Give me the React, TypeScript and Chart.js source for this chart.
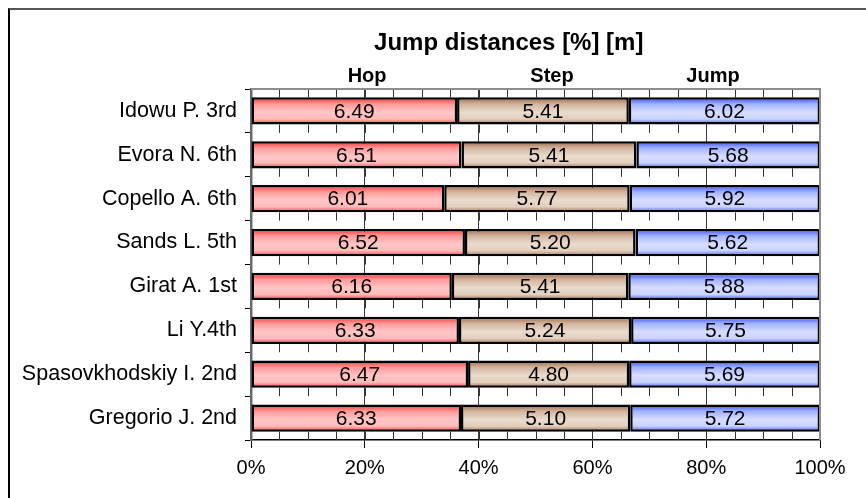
import React, { useEffect, useRef } from "react";
import { Chart, registerables } from "chart.js";

Chart.register(...registerables);

const categories = [
  "Idowu P. 3rd",
  "Evora N. 6th",
  "Copello A. 6th",
  "Sands L. 5th",
  "Girat A. 1st",
  "Li Y.4th",
  "Spasovkhodskiy I. 2nd",
  "Gregorio J. 2nd",
];
const hop = [6.49, 6.51, 6.01, 6.52, 6.16, 6.33, 6.47, 6.33];
const step = [5.41, 5.41, 5.77, 5.2, 5.41, 5.24, 4.8, 5.1];
const jump = [6.02, 5.68, 5.92, 5.62, 5.88, 5.75, 5.69, 5.72];
const seriesNames = ["Hop", "Step", "Jump"];
const headerPositions = [20.4, 52.9, 81.2];
const xTicks = [0, 20, 40, 60, 80, 100];

const FONT = '"Liberation Sans", Arial, sans-serif';
const BAR_PCT = 0.62;

const gradStops: string[][] = [
  ["#ff2a2a", "#ff9a9a", "#ffc6c6", "#ffbaba", "#ff3434"],
  ["#9c6444", "#d2b49e", "#eadbcc", "#e2cfbd", "#a06a4a"],
  ["#2f4cff", "#a2b2ff", "#d6ddff", "#cad3ff", "#3856ff"],
];

const totals = categories.map((_, i) => hop[i] + step[i] + jump[i]);
const raw = [hop, step, jump];

function makeBg(si: number) {
  return (ctx: any) => {
    const chart = ctx.chart;
    const y = chart.scales && chart.scales.y;
    if (!y || ctx.dataIndex === undefined) return gradStops[si][2];
    const c = y.getPixelForValue(ctx.dataIndex);
    const band = Math.abs(y.getPixelForValue(1) - y.getPixelForValue(0));
    if (!isFinite(c) || !isFinite(band) || band <= 0) return gradStops[si][2];
    const h = band * BAR_PCT;
    const g = chart.ctx.createLinearGradient(0, c - h / 2, 0, c + h / 2);
    const s = gradStops[si];
    g.addColorStop(0, s[0]);
    g.addColorStop(0.25, s[1]);
    g.addColorStop(0.55, s[2]);
    g.addColorStop(0.8, s[3]);
    g.addColorStop(1, s[4]);
    return g;
  };
}

const minorTicksPlugin = {
  id: "minorTicks",
  beforeDatasetsDraw(chart: any) {
    const { ctx, scales } = chart;
    const x = scales.x;
    const y = scales.y;
    const band = Math.abs(y.getPixelForValue(1) - y.getPixelForValue(0));
    const gap = (band * (1 - BAR_PCT)) / 2;
    ctx.save();
    ctx.strokeStyle = "#333";
    ctx.lineWidth = 1;
    ctx.beginPath();
    for (let v = 5; v < 100; v += 5) {
      const px = Math.round(x.getPixelForValue(v)) + 0.5;
      const top = y.getPixelForValue(0) - band / 2;
      ctx.moveTo(px, top);
      ctx.lineTo(px, top + gap);
      for (let i = 0; i < categories.length; i++) {
        const b = y.getPixelForValue(i) + band / 2;
        ctx.moveTo(px, b - gap);
        ctx.lineTo(px, b);
      }
    }
    ctx.stroke();
    ctx.restore();
  },
};

const frameAndLabelsPlugin = {
  id: "frameLabels",
  afterDatasetsDraw(chart: any) {
    const { ctx, chartArea } = chart;
    ctx.save();
    ctx.strokeStyle = "#8c8c8c";
    ctx.lineWidth = 2;
    ctx.beginPath();
    ctx.moveTo(chartArea.left, chartArea.top);
    ctx.lineTo(chartArea.right, chartArea.top);
    ctx.lineTo(chartArea.right, chartArea.bottom);
    ctx.stroke();
    ctx.fillStyle = "#000";
    ctx.font = `21px ${FONT}`;
    ctx.textAlign = "center";
    ctx.textBaseline = "middle";
    chart.data.datasets.forEach((ds: any, di: number) => {
      const meta = chart.getDatasetMeta(di);
      meta.data.forEach((el: any, i: number) => {
        const cx = (el.x + el.base) / 2;
        ctx.fillText(raw[di][i].toFixed(2), cx, el.y + 1);
      });
    });
    ctx.restore();
  },
  afterDraw(chart: any) {
    const { ctx, scales } = chart;
    const x = scales.x;
    ctx.save();
    ctx.fillStyle = "#000";
    ctx.textAlign = "center";
    ctx.textBaseline = "middle";
    ctx.font = `bold 24px ${FONT}`;
    ctx.fillText("Jump distances [%] [m]", x.getPixelForValue(45.3), 33);
    ctx.font = `bold 20px ${FONT}`;
    seriesNames.forEach((n, i) => {
      ctx.fillText(n, x.getPixelForValue(headerPositions[i]), 66);
    });
    ctx.restore();
  },
};

export default function App() {
  const ref = useRef<HTMLCanvasElement | null>(null);
  useEffect(() => {
    if (!ref.current) return;
    const datasets = raw.map((arr, si) => ({
      label: seriesNames[si],
      data: arr.map((v, i) => (v / totals[i]) * 100),
      backgroundColor: makeBg(si),
      borderColor: "#000",
      borderWidth: 2.5,
      borderSkipped: false,
      barPercentage: BAR_PCT,
      categoryPercentage: 1,
    }));
    const chart = new Chart(ref.current, {
      type: "bar",
      data: { labels: categories, datasets },
      options: {
        indexAxis: "y",
        responsive: false,
        animation: false,
        layout: { padding: { top: 79, right: 46, left: 0, bottom: 0 } },
        plugins: {
          legend: { display: false },
          tooltip: { enabled: false },
          title: { display: false },
        },
        scales: {
          x: {
            stacked: true,
            min: 0,
            max: 100,
            afterBuildTicks: (s: any) => {
              s.ticks = xTicks.map((v) => ({ value: v }));
            },
            afterFit: (s: any) => {
              s.height = 58;
            },
            ticks: {
              color: "#000",
              font: { family: FONT, size: 20 },
              padding: 8,
              maxRotation: 0,
              callback: (v: any) => `${v}%`,
            },
            grid: {
              color: "#3a3a3a",
              lineWidth: 1,
              tickLength: 8,
              tickColor: "#000",
            },
            border: { display: true, color: "#000", width: 1.5 },
          },
          y: {
            stacked: true,
            afterFit: (s: any) => {
              s.width = 241;
            },
            ticks: {
              color: "#000",
              font: { family: FONT, size: 21.5 },
              padding: 8,
            },
            grid: {
              display: true,
              drawOnChartArea: false,
              drawTicks: true,
              tickLength: 6,
              tickColor: "#000",
              offset: true,
            },
            border: { display: true, color: "#6a6a6a", width: 2.5 },
          },
        },
      },
      plugins: [minorTicksPlugin, frameAndLabelsPlugin],
    } as any);
    return () => chart.destroy();
  }, []);
  return (
    <div
      style={{
        position: "fixed",
        left: 8,
        top: 8,
        width: 856,
        height: 488,
        borderTop: "2px solid #555",
        borderLeft: "2px solid #000",
        background: "#fff",
      }}
    >
      <canvas
        ref={ref}
        width={856}
        height={488}
        style={{ display: "block", width: 856, height: 488 }}
      />
    </div>
  );
}
